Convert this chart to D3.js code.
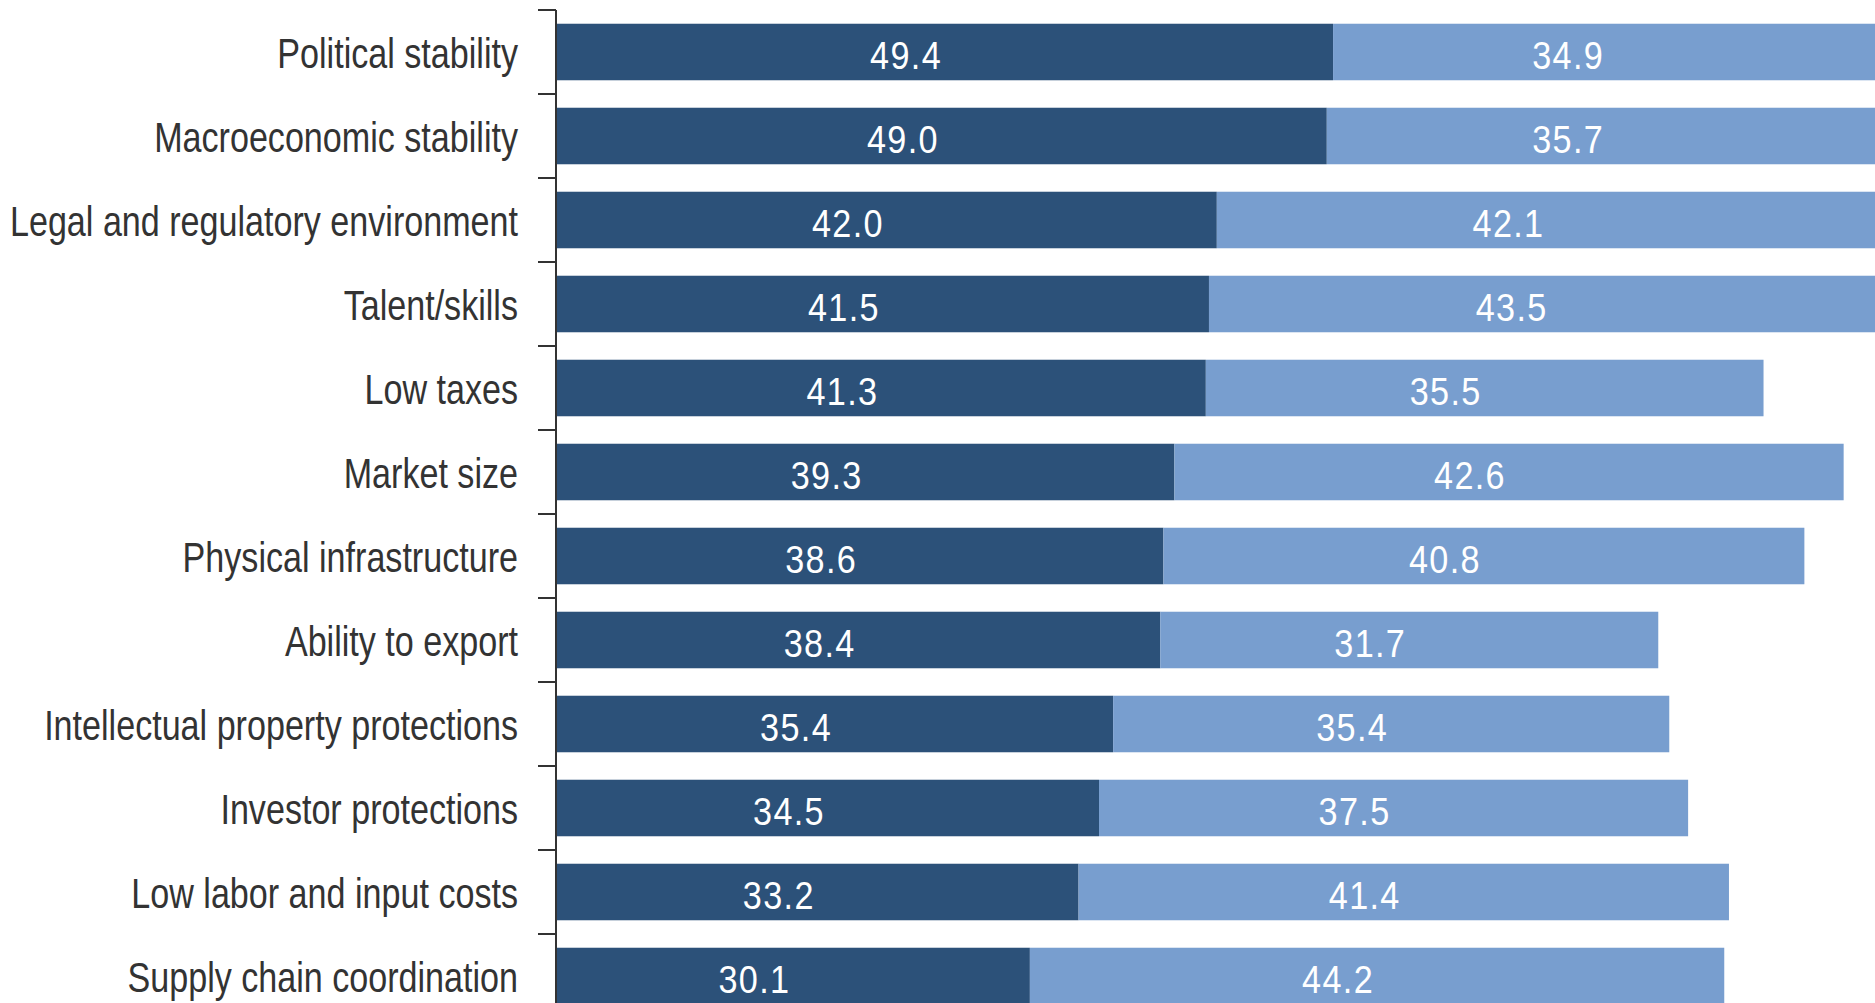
<!DOCTYPE html>
<html>
<head>
    <title>Stacked factors</title>
    <script src="https://d3js.org/d3.v7.min.js"></script>
    <style>
        body { margin: 0; background: #fff; }
        svg { display: block; }
    </style>
</head>
<body>
    <script>
// categories, top to bottom
const categories = [
    "Political stability",
    "Macroeconomic stability",
    "Legal and regulatory environment",
    "Talent/skills",
    "Low taxes",
    "Market size",
    "Physical infrastructure",
    "Ability to export",
    "Intellectual property protections",
    "Investor protections",
    "Low labor and input costs",
    "Supply chain coordination"
];

// first (dark) segment
const darkValues = [49.4, 49.0, 42.0, 41.5, 41.3, 39.3, 38.6, 38.4, 35.4, 34.5, 33.2, 30.1];
// second (light) segment
const lightValues = [34.9, 35.7, 42.1, 43.5, 35.5, 42.6, 40.8, 31.7, 35.4, 37.5, 41.4, 44.2];

const width = 1875, height = 1003;
const axisX = 557;
// no narrow font installed, so squeeze Liberation Sans sideways
const squeeze = 0.812;
const font = "'Liberation Sans', Arial, sans-serif";

let rows = categories.map((c, i) => ({ cat: c, dark: darkValues[i], light: lightValues[i] }));

let x = d3.scaleLinear()
    .domain([0, 100])
    .range([axisX, axisX + 1571]);

let y = d3.scaleBand()
    .domain(categories)
    .range([10, 1018])
    .paddingInner(0.327)
    .paddingOuter(0.1635);

let svg = d3.select("body")
    .append("svg")
    .attr("width", width)
    .attr("height", height);

let fmt = d3.format(".1f");

// bars
let g = svg.selectAll("g.row")
    .data(rows)
    .enter()
    .append("g")
    .attr("class", "row");

g.append("rect")
    .attr("x", x(0))
    .attr("y", d => y(d.cat))
    .attr("width", d => x(d.dark) - x(0))
    .attr("height", y.bandwidth())
    .attr("fill", "#2c5179");

g.append("rect")
    .attr("x", d => x(d.dark))
    .attr("y", d => y(d.cat))
    .attr("width", d => x(d.dark + d.light) - x(d.dark))
    .attr("height", y.bandwidth())
    .attr("fill", "#789ecf");

// value labels (sit a bit left of and below segment centre)
function valueLabel(sel, cx, txt) {
    sel.append("text")
        .attr("transform", d => `translate(${cx(d) - 39},${y(d.cat) + y.bandwidth() / 2 + 17}) scale(0.9,1)`)
        .attr("text-anchor", "middle")
        .attr("fill", "#fff")
        .style("font-family", font)
        .style("font-size", "38px")
        .style("letter-spacing", "1.5px")
        .text(txt);
}
valueLabel(g, d => (x(0) + x(d.dark)) / 2, d => fmt(d.dark));
valueLabel(g, d => (x(d.dark) + x(d.dark + d.light)) / 2, d => fmt(d.light));

// y axis: labels at band centres, ticks at band edges
let axis = svg.append("g")
    .attr("transform", `translate(${axisX - 1},0)`);

axis.selectAll("text")
    .data(categories)
    .enter()
    .append("text")
    .attr("transform", d => `translate(-38,${y(d) + y.bandwidth() / 2 + 15.5}) scale(${squeeze},1)`)
    .attr("text-anchor", "end")
    .attr("fill", "#333")
    .style("font-family", font)
    .style("font-size", "42px")
    .text(d => d);

let edges = categories.map(c => y(c) - y.step() * y.paddingInner() / 2);
axis.selectAll("line.edge")
    .data(edges)
    .enter()
    .append("line")
    .attr("class", "edge")
    .attr("x1", -18)
    .attr("x2", 0)
    .attr("y1", d => d)
    .attr("y2", d => d)
    .attr("stroke", "#333")
    .attr("stroke-width", 2);

axis.append("line")
    .attr("x1", 0)
    .attr("x2", 0)
    .attr("y1", y.range()[0])
    .attr("y2", y.range()[1])
    .attr("stroke", "#333")
    .attr("stroke-width", 2);
    </script>
</body>
</html>
